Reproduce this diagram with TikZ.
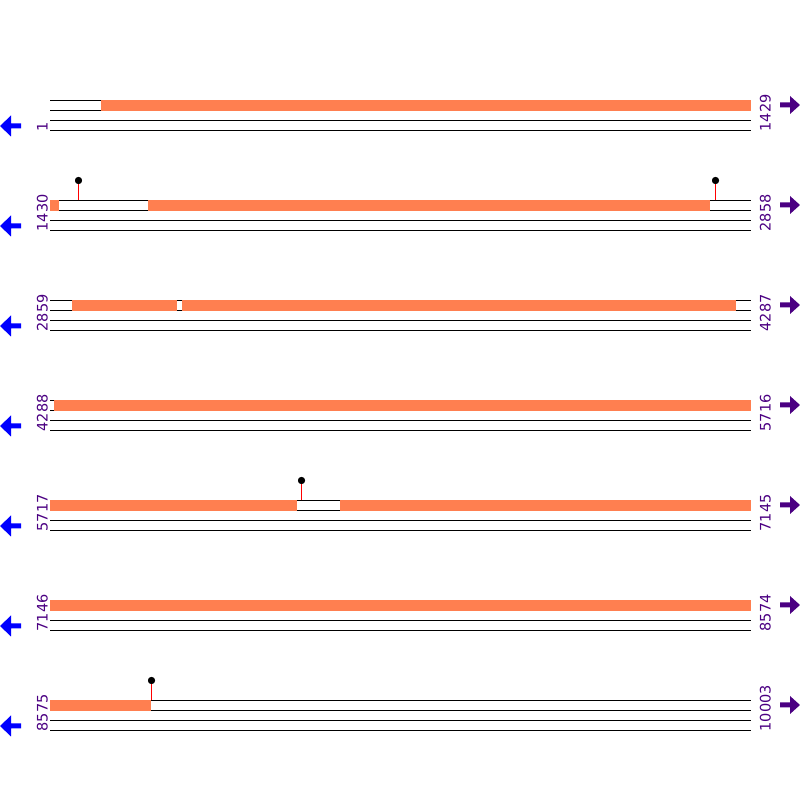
\documentclass[tikz,border=0pt]{standalone}
\usepackage{fontspec}
\setmainfont{DejaVu Sans}
\definecolor{orng}{HTML}{FF7F50}
\definecolor{indig}{HTML}{4B0082}
\begin{document}
\begin{tikzpicture}[x=1pt,y=1pt,
  track/.style={line width=1pt, black},
  seg/.style={fill=orng, draw=none},
  lbl/.style={text=indig, font=\fontsize{14.5}{16}\selectfont, rotate=90, anchor=base west, inner sep=0pt},
  stem/.style={red, line width=1pt},
  lolli/.style={circle, fill=black, inner sep=0pt, minimum size=7pt},
  larrow/.style={fill=blue},
  rarrow/.style={fill=indig}]
\useasboundingbox (0,0) rectangle (800,800);
\foreach \r/\a/\b in {0/1/1429, 1/1430/2858, 2/2859/4287, 3/4288/5716, 4/5717/7145, 5/7146/8574, 6/8575/10003}{
  \pgfmathsetmacro\Y{699.5-100*\r}
  \foreach \d in {0,10,20,30}{
    \draw[track] (50,\Y-\d) -- (751,\Y-\d);
  }
  \node[lbl] (l\r) at (47.5,\Y-31) {\a};
  \node[lbl] (r\r) at (770.5,\Y-31) {\b};
  \fill[larrow] (0,\Y-25.5) -- (11,\Y-15) -- (11,\Y-23) -- (21,\Y-23) -- (21,\Y-28) -- (11,\Y-28) -- (11,\Y-36) -- cycle;
  \fill[rarrow] (800,\Y-4.5) -- (790,\Y+4.5) -- (790,\Y-2) -- (780,\Y-2) -- (780,\Y-7) -- (790,\Y-7) -- (790,\Y-13.5) -- cycle;
}
% orange segments
\foreach \r/\x/\xx in {0/101/751, 1/50/59, 1/148/710, 2/72/177, 2/182/736, 3/54/751, 4/50/297, 4/340/751, 5/50/751, 6/50/151}{
  \pgfmathsetmacro\Y{699.5-100*\r}
  \fill[seg] (\x,\Y+0.5) rectangle (\xx,\Y-10.5);
}
% lollipops
\foreach \r/\x [count=\i] in {1/78.5, 1/715.5, 4/301.5, 6/151.5}{
  \pgfmathsetmacro\Y{699.5-100*\r}
  \coordinate (s\i) at (\x,\Y);
  \node[lolli] (p\i) at (\x,\Y+20) {};
  \draw[stem] (s\i) -- (p\i.center);
  \node[lolli] at (p\i.center) {};
}
\end{tikzpicture}
\end{document}
